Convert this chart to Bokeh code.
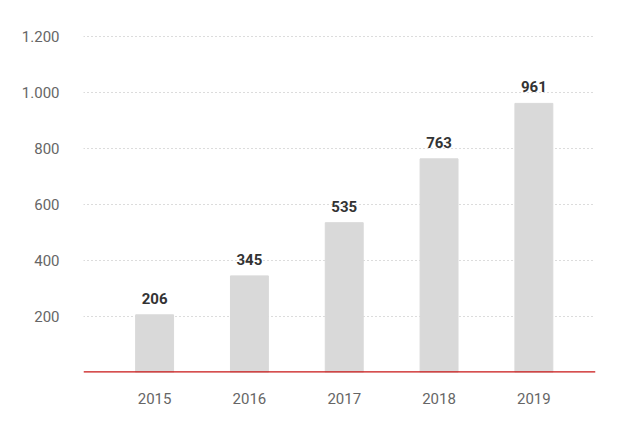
from bokeh.plotting import figure
from bokeh.models import ColumnDataSource, FixedTicker, Range1d, Span
from bokeh.core.properties import value
from bokeh.embed import file_html
from bokeh.resources import INLINE

years = [2015, 2016, 2017, 2018, 2019]
values = [206, 345, 535, 763, 961]
year_labels = ["2015", "2016", "2017", "2018", "2019"]
value_labels = ["206", "345", "535", "763", "961"]
y_ticks = [200, 400, 600, 800, 1000, 1200]
y_tick_labels = ["200", "400", "600", "800", "1.000", "1.200"]

src = ColumnDataSource(dict(x=years, top=values, lab=value_labels))

p = figure(width=630, height=430, output_backend="svg", toolbar_location=None,
           x_range=Range1d(2014.25, 2019.65), y_range=Range1d(0, 1257),
           min_border_left=83, min_border_right=35, min_border_top=20, min_border_bottom=58)
p.outline_line_color = None
p.background_fill_color = "white"
p.border_fill_color = "white"

p.vbar(x="x", top="top", width=0.4, source=src, color="#d9d9d9")
p.text(x="x", y="top", text="lab", source=src, text_align="center", text_baseline="bottom",
       y_offset=-11, text_font=value("Roboto"), text_font_style="bold",
       text_font_size="15px", text_color="#333333")

p.add_layout(Span(location=0, dimension="width", line_color="#c81414", line_width=2.5))

p.xgrid.visible = False
p.ygrid.ticker = FixedTicker(ticks=y_ticks)
p.ygrid.grid_line_color = "#b8b8b8"
p.ygrid.grid_line_dash = "1 3"
p.ygrid.grid_line_width = 1

p.yaxis.ticker = FixedTicker(ticks=y_ticks)
p.yaxis.major_label_overrides = {t: l for t, l in zip(y_ticks, y_tick_labels)}
p.yaxis.axis_line_color = None
p.yaxis.major_tick_line_color = None
p.yaxis.minor_tick_line_color = None
p.yaxis.major_label_standoff = 18
p.yaxis.major_label_text_font = "Roboto"
p.yaxis.major_label_text_font_size = "15px"
p.yaxis.major_label_text_color = "#666666"

p.xaxis.ticker = FixedTicker(ticks=years)
p.xaxis.major_label_overrides = {y: l for y, l in zip(years, year_labels)}
p.xaxis.axis_line_color = None
p.xaxis.major_tick_line_color = None
p.xaxis.minor_tick_line_color = None
p.xaxis.major_label_standoff = 14
p.xaxis.major_label_text_font = "Roboto"
p.xaxis.major_label_text_font_size = "15px"
p.xaxis.major_label_text_color = "#666666"

open("out.html", "w").write(file_html(p, INLINE))
